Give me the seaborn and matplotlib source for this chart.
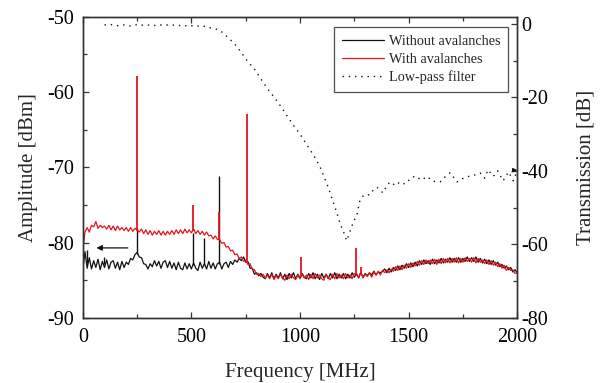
import numpy as np
import pandas as pd
import matplotlib
matplotlib.use("Agg")
import matplotlib.pyplot as plt
from matplotlib.lines import Line2D
import seaborn as sns

# ---------------- data ----------------
freq = np.arange(0, 2001, 10)  # MHz sampling grid

amp_without = [
    -83.6, -81.2, -83.4, -82.0, -83.5, -82.4, -83.3, -82.2, -83.6, -82.5,
    -83.3, -82.3, -83.5, -82.6, -82.4, -83.4, -82.6, -83.6, -82.5, -83.3,
    -82.6, -82.9, -82.1, -82.3, -81.6, -81.3, -81.9, -82.0, -82.8, -82.9,
    -83.5, -82.8, -83.2, -82.4, -83.1, -82.5, -83.4, -82.6, -82.4, -83.3,
    -82.5, -83.4, -82.7, -83.6, -82.6, -83.4, -83.6, -82.7, -83.5, -82.8,
    -83.5, -82.7, -83.4, -83.7, -82.6, -83.4, -82.8, -83.5, -82.5, -83.4,
    -82.7, -83.5, -82.8, -82.6, -83.5, -82.8, -82.6, -83.3, -82.5, -82.9,
    -82.3, -82.6, -82.1, -82.4, -81.9, -82.6, -82.5, -83.4, -83.4, -84.2,
    -84.0, -84.4, -84.1, -84.6, -84.8, -84.1, -84.7, -84.0, -84.8, -84.2,
    -84.7, -84.0, -84.8, -84.2, -84.9, -84.1, -84.7, -84.0, -84.8, -84.2,
    -84.7, -84.1, -84.6, -84.8, -84.1, -84.7, -84.0, -84.8, -84.2, -84.9,
    -84.1, -84.7, -84.2, -84.8, -84.1, -84.7, -84.0, -84.8, -84.2, -84.7,
    -84.1, -84.8, -84.2, -84.7, -84.0, -84.6, -84.1, -84.7, -84.0, -84.6,
    -84.1, -84.4, -84.0, -84.3, -83.8, -84.3, -83.9, -84.0, -83.8, -83.5,
    -84.0, -83.4, -83.9, -83.3, -83.7, -83.1, -83.6, -83.0, -83.4, -82.8,
    -83.3, -82.7, -83.2, -82.6, -83.1, -82.4, -82.9, -82.3, -82.8, -82.4,
    -82.9, -82.2, -82.8, -82.3, -82.7, -82.1, -82.7, -82.2, -82.6, -82.0,
    -82.6, -82.1, -82.6, -82.0, -82.6, -82.1, -82.5, -81.9, -82.5, -82.0,
    -82.5, -81.9, -82.6, -82.1, -82.7, -82.2, -82.8, -82.3, -82.9, -82.4,
    -83.0, -82.6, -83.2, -82.9, -83.4, -83.1, -83.6, -83.3, -83.9, -83.6,
    -84.0,
]

amp_with = [
    -81.0, -78.6, -78.0, -78.6, -77.7, -77.9, -77.2, -78.1, -77.7, -78.0,
    -77.8, -78.2, -77.7, -78.3, -77.8, -78.4, -77.8, -78.3, -78.0, -78.4,
    -78.0, -78.5, -78.0, -78.5, -78.1, -78.3, -78.6, -78.2, -78.8, -78.3,
    -78.9, -78.4, -79.0, -78.5, -78.9, -78.4, -79.0, -78.5, -79.0, -78.5,
    -78.9, -78.4, -78.9, -78.3, -78.8, -78.3, -78.8, -78.2, -78.7, -78.3,
    -78.7, -78.2, -78.8, -78.4, -78.9, -78.5, -79.0, -78.6, -79.1, -79.0,
    -79.5, -79.1, -79.6, -79.6, -80.1, -80.0, -80.6, -80.5, -81.1, -81.0,
    -81.6, -81.5, -82.1, -81.9, -82.5, -82.3, -82.9, -82.8, -83.5, -83.6,
    -84.2, -84.1, -84.5, -84.2, -84.7, -84.3, -84.8, -84.2, -84.9, -84.4,
    -84.8, -84.2, -84.7, -85.0, -84.3, -84.8, -84.2, -84.7, -84.9, -84.3,
    -84.8, -84.2, -84.7, -84.3, -84.9, -84.2, -84.8, -84.1, -84.7, -84.3,
    -84.8, -85.0, -84.2, -84.7, -84.9, -84.2, -84.8, -84.1, -84.7, -84.3,
    -84.8, -84.1, -84.7, -84.3, -84.8, -84.1, -84.3, -84.6, -83.9, -84.7,
    -84.2, -84.5, -84.0, -84.6, -83.9, -84.3, -83.8, -84.3, -83.7, -84.0,
    -83.6, -84.0, -83.5, -83.8, -83.2, -83.7, -83.1, -83.6, -83.0, -83.4,
    -82.8, -83.3, -82.7, -83.1, -82.5, -83.0, -82.4, -82.9, -82.3, -82.8,
    -82.3, -82.8, -82.2, -82.9, -82.2, -82.8, -82.1, -82.7, -82.1, -82.7,
    -82.1, -82.6, -82.0, -82.7, -82.1, -82.6, -82.0, -82.5, -82.1, -82.6,
    -82.0, -82.7, -82.1, -82.6, -82.3, -82.8, -82.3, -82.9, -82.4, -83.0,
    -82.6, -83.2, -82.8, -83.4, -83.0, -83.7, -83.3, -83.7, -83.6, -84.1,
    -84.0,
]

# narrow spectral lines (frequency, base, top) in dBm
spike_freq_without = [20, 97, 250, 507, 558, 627]
spike_base_without = [-82.7, -82.8, -81.5, -83.0, -83.0, -82.9]
spike_top_without = [-81.0, -81.9, -78.0, -78.7, -79.4, -71.2]

spike_freq_with = [250, 507, 627, 757, 1005, 1258, 1282]
spike_base_with = [-78.4, -78.5, -79.7, -82.6, -84.5, -84.3, -84.3]
spike_top_with = [-57.9, -75.0, -75.9, -62.9, -81.9, -80.7, -83.2]

# low-pass filter transmission (right axis)
filt_freq = [100, 130, 160, 190, 220, 250, 280, 310, 340, 370, 400, 430, 460,
             490, 520, 550, 580, 610, 640, 670, 700, 730, 760, 790, 820, 850,
             880, 910, 940, 970, 1000, 1030, 1060, 1090, 1110, 1130, 1150,
             1170, 1185, 1200, 1215, 1230, 1245, 1262, 1276, 1295, 1322, 1340,
             1355, 1382, 1400, 1415, 1440, 1460, 1484, 1510, 1530, 1560, 1585,
             1610, 1645, 1670, 1691, 1710, 1723, 1745, 1770, 1800, 1830, 1850,
             1866, 1890, 1910, 1935, 1960, 1982, 2000]
filt_db = [-0.3, -0.2, -0.5, -0.3, -0.6, -0.2, -0.4, -0.3, -0.5, -0.2, -0.4,
           -0.3, -0.6, -0.4, -0.7, -0.5, -1.0, -1.3, -2.2, -3.8, -5.5, -7.8,
           -10.3, -12.3, -15.0, -17.6, -19.9, -22.3, -25.0, -27.6, -30.0,
           -32.8, -35.5, -38.6, -41.5, -44.5, -48.0, -51.5, -54.5, -56.5,
           -59.0, -56.5, -54.0, -52.0, -48.0, -46.5, -46.5, -45.0, -44.5,
           -46.0, -44.0, -43.0, -44.0, -43.0, -43.6, -42.0, -41.4, -42.5,
           -41.5, -42.8, -43.0, -41.5, -40.5, -42.0, -43.0, -42.2, -41.6,
           -41.2, -40.6, -42.0, -39.7, -41.5, -40.0, -42.7, -40.3, -42.7,
           -40.0]

legend_labels = ["Without avalanches", "With avalanches", "Low-pass filter"]
x_ticks = [0, 500, 1000, 1500, 2000]
y_left_ticks = [-90, -80, -70, -60, -50]
y_right_ticks = [-80, -60, -40, -20, 0]

assert len(amp_without) == len(freq) and len(amp_with) == len(freq)

# ---------------- style ----------------
sns.set_theme(style="ticks")
plt.rcParams["font.family"] = ["Liberation Serif", "DejaVu Serif"]
plt.rcParams["axes.unicode_minus"] = False

RED = "#e5141b"
BLACK = "#111111"
SPINE = "#333333"
DOTS = (0, (1, 3.5))

fig = plt.figure(figsize=(6.0, 3.83), dpi=100)
ax = fig.add_axes([0.138, 0.170, 0.724, 0.786])
ax2 = ax.twinx()

df = pd.DataFrame({"freq": freq, "without": amp_without, "with": amp_with})
sns.lineplot(data=df, x="freq", y="without", ax=ax, color=BLACK, lw=0.9,
             legend=False)
ax.vlines(spike_freq_without, spike_base_without, spike_top_without,
          color=BLACK, lw=1.0)
sns.lineplot(data=df, x="freq", y="with", ax=ax, color=RED, lw=0.9,
             legend=False)
ax.vlines(spike_freq_with, spike_base_with, spike_top_with, color=RED, lw=1.3)

dff = pd.DataFrame({"freq": filt_freq, "db": filt_db})
sns.lineplot(data=dff, x="freq", y="db", ax=ax2, color=BLACK, lw=1.0,
             linestyle=DOTS, legend=False)

# arrows indicating which axis each curve uses
ax.annotate("", xy=(50, -80.7), xytext=(220, -80.7),
            arrowprops=dict(arrowstyle="-|>", color=BLACK, lw=0.9,
                            mutation_scale=8))
ax2.annotate("", xy=(2000, -39.8), xytext=(1975, -39.8),
             arrowprops=dict(arrowstyle="-|>", color=BLACK, lw=0.8,
                             mutation_scale=6))

# axes limits / ticks
ax.set_xlim(0, 2000)
ax.set_ylim(-90, -50)
ax2.set_ylim(-80, 1.9)
ax.set_xticks(x_ticks)
ax.set_yticks(y_left_ticks)
ax2.set_yticks(y_right_ticks)
ax.set_xticks(np.arange(250, 2000, 500), minor=True)
ax.set_yticks(np.arange(-85, -50, 10), minor=True)
ax2.set_yticks(np.arange(-70, 0, 20), minor=True)

ax.tick_params(axis="both", which="both", direction="in", colors=SPINE,
               labelcolor="black", labelsize=14.5, top=True, right=False,
               width=0.9)
ax.tick_params(which="major", length=4.5)
ax.tick_params(axis="x", which="major", pad=7)
ax.tick_params(axis="y", which="major", pad=6)
ax.tick_params(which="minor", length=2.8)
ax2.tick_params(axis="y", which="both", direction="in", colors=SPINE,
                labelcolor="black", labelsize=14.5, width=0.9)
ax2.tick_params(which="major", length=4.5, pad=3)
ax2.tick_params(which="minor", length=2.8)

for a in (ax, ax2):
    for s in a.spines.values():
        s.set_color(SPINE)
        s.set_linewidth(1.0)

ax.set_xlabel("Frequency [MHz]", fontsize=15, labelpad=12)
ax.set_ylabel("Amplitude [dBm]", fontsize=15, labelpad=7)
ax2.set_ylabel("Transmission [dB]", fontsize=15, labelpad=20)

handles = [Line2D([], [], color=BLACK, lw=0.9),
           Line2D([], [], color=RED, lw=0.9),
           Line2D([], [], color=BLACK, lw=1.0, linestyle=DOTS)]
leg = ax2.legend(handles, legend_labels, loc="upper right",
                 bbox_to_anchor=(0.979, 0.967), borderaxespad=0,
                 fontsize=10.3, frameon=True, fancybox=False,
                 handlelength=2.9, labelspacing=0.35, borderpad=0.55,
                 handletextpad=0.35)
leg.get_frame().set_edgecolor("#222222")
leg.get_frame().set_linewidth(0.9)

fig.savefig("out.png", dpi=100)
